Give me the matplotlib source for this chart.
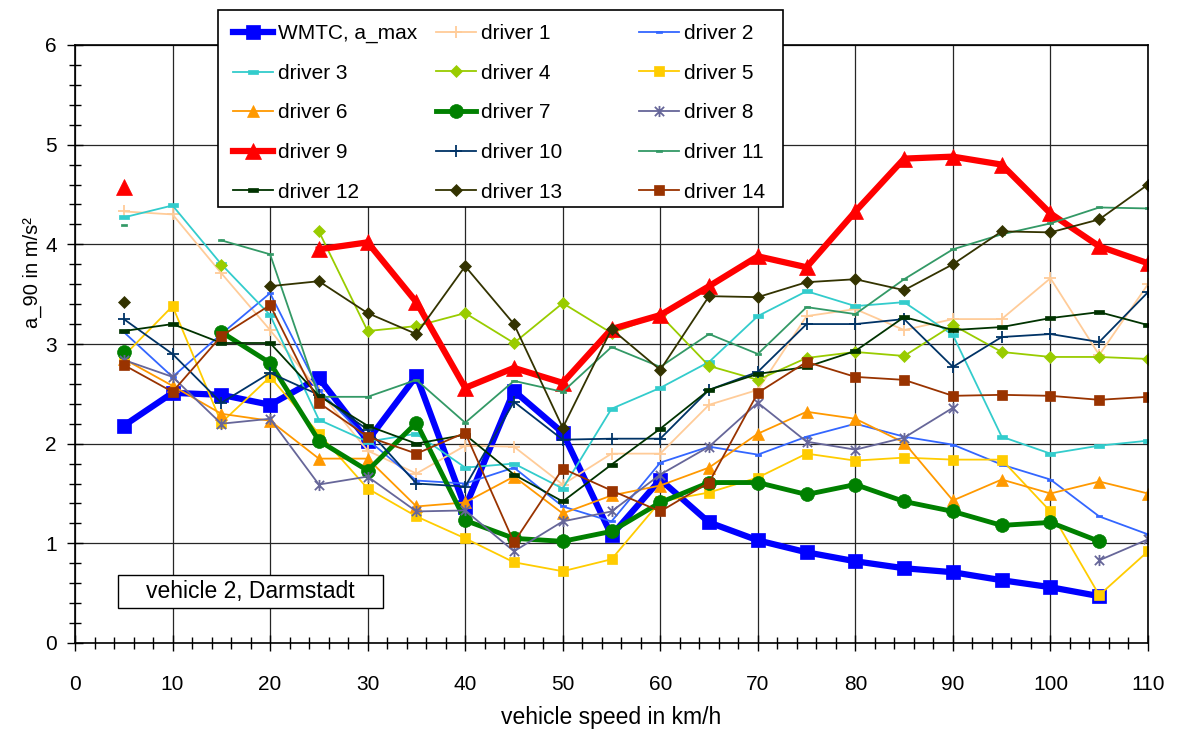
import numpy as np
import matplotlib
matplotlib.use("Agg")
import matplotlib.pyplot as plt
from matplotlib.path import Path
from matplotlib.patches import Rectangle
from matplotlib.ticker import MultipleLocator

plt.rcParams['font.family'] = ['Liberation Sans', 'DejaVu Sans']

nan = np.nan

# vehicle speed classes in km/h
speed = [5, 10, 15, 20, 25, 30, 35, 40, 45, 50, 55, 60, 65, 70, 75, 80, 85, 90, 95, 100, 105, 110]

# a_90 in m/s^2 per speed class
wmtc = [2.18, 2.51, 2.49, 2.39, 2.66, 2.03, 2.68, 1.36, 2.53, 2.11, 1.08, 1.64, 1.21, 1.03, 0.91, 0.82, 0.75, 0.71, 0.63, 0.56, 0.47, nan]
driver_1 = [4.33, 4.30, 3.71, 3.14, 2.53, 1.93, 1.70, 1.98, 1.97, 1.59, 1.90, 1.90, 2.39, 2.54, 3.28, 3.35, 3.14, 3.25, 3.25, 3.66, 2.89, 3.60]
driver_2 = [3.12, 2.67, 3.10, 3.51, 2.54, 2.04, 1.63, 1.60, 1.76, 1.37, 1.22, 1.81, 1.97, 1.89, 2.07, 2.20, 2.07, 1.99, 1.79, 1.64, 1.27, 1.09]
driver_3 = [4.27, 4.39, 3.80, 3.29, 2.24, 2.02, 2.10, 1.76, 1.80, 1.55, 2.35, 2.56, 2.82, 3.28, 3.53, 3.38, 3.42, 3.09, 2.07, 1.90, 1.98, 2.03]
driver_4 = [nan, nan, 3.79, nan, 4.13, 3.13, 3.18, 3.31, 3.01, 3.41, 3.11, 3.29, 2.78, 2.64, 2.86, 2.92, 2.88, 3.19, 2.92, 2.87, 2.87, 2.85]
driver_5 = [2.88, 3.38, 2.21, 2.67, 2.10, 1.55, 1.27, 1.05, 0.81, 0.72, 0.84, 1.42, 1.51, 1.66, 1.90, 1.83, 1.86, 1.84, 1.84, 1.32, 0.48, 0.92]
driver_6 = [2.85, 2.58, 2.30, 2.23, 1.85, 1.85, 1.37, 1.41, 1.67, 1.30, 1.48, 1.58, 1.76, 2.10, 2.32, 2.25, 2.01, 1.43, 1.64, 1.50, 1.62, 1.50]
driver_7 = [2.92, nan, 3.12, 2.81, 2.03, 1.73, 2.21, 1.23, 1.05, 1.02, 1.12, 1.41, 1.61, 1.61, 1.49, 1.59, 1.42, 1.32, 1.18, 1.21, 1.02, nan]
driver_8 = [2.84, 2.67, 2.20, 2.25, 1.59, 1.67, 1.32, 1.33, 0.92, 1.22, 1.32, 1.69, 1.97, 2.41, 2.02, 1.94, 2.06, 2.36, nan, nan, 0.83, 1.04]
driver_9 = [4.58, nan, nan, nan, 3.95, 4.02, 3.42, 2.56, 2.76, 2.61, 3.15, 3.29, 3.58, 3.88, 3.77, 4.33, 4.86, 4.88, 4.80, 4.31, 3.98, 3.81]
driver_10 = [3.25, 2.90, 2.41, 2.71, 2.49, 2.14, 1.60, 1.57, 2.42, 2.04, 2.05, 2.05, 2.54, 2.72, 3.20, 3.20, 3.25, 2.77, 3.07, 3.10, 3.02, 3.52]
driver_11 = [4.19, nan, 4.04, 3.90, 2.47, 2.47, 2.64, 2.21, 2.63, 2.52, 2.97, 2.77, 3.10, 2.90, 3.37, 3.30, 3.65, 3.95, 4.10, 4.21, 4.37, 4.36]
driver_12 = [3.13, 3.20, 3.01, 3.01, 2.48, 2.18, 2.00, 2.09, 1.69, 1.42, 1.79, 2.15, 2.54, 2.70, 2.77, 2.93, 3.27, 3.14, 3.17, 3.26, 3.32, 3.19]
driver_13 = [3.42, nan, nan, 3.58, 3.63, 3.31, 3.10, 3.78, 3.20, 2.16, 3.15, 2.74, 3.48, 3.47, 3.62, 3.65, 3.54, 3.80, 4.13, 4.12, 4.25, 4.60]
driver_14 = [2.79, 2.52, 3.08, 3.39, 2.41, 2.07, 1.90, 2.11, 1.01, 1.75, 1.53, 1.32, 1.61, 2.51, 2.82, 2.67, 2.64, 2.48, 2.49, 2.48, 2.44, 2.47]

labels = ['WMTC, a_max'] + ['driver %d' % i for i in range(1, 15)]
series = [wmtc, driver_1, driver_2, driver_3, driver_4, driver_5, driver_6, driver_7,
          driver_8, driver_9, driver_10, driver_11, driver_12, driver_13, driver_14]

# small bar marker and x-with-vertical star marker
dash = Path([(-1, -0.4), (1, -0.4), (1, 0.4), (-1, 0.4), (-1, -0.4)])
star = Path([(-1, -1), (1, 1), (-1, 1), (1, -1), (0, -1.2), (0, 1.2)],
            [Path.MOVETO, Path.LINETO, Path.MOVETO, Path.LINETO, Path.MOVETO, Path.LINETO])

# color, marker, marker size, line width
styles = [
    ('#0000FF', 's', 10.5, 4.5),
    ('#FFCC99', '+', 9, 1.3),
    ('#3366FF', dash, 5, 1.3),
    ('#33CCCC', dash, 7, 1.3),
    ('#99CC00', 'D', 6.5, 1.3),
    ('#FFCC00', 's', 7.5, 1.3),
    ('#FF9900', '^', 8, 1.3),
    ('#008000', 'o', 10, 3.5),
    ('#666699', star, 8, 1.3),
    ('#FF0000', '^', 11, 4.5),
    ('#003366', '+', 9, 1.3),
    ('#339966', dash, 5, 1.3),
    ('#003300', dash, 6.5, 1.3),
    ('#333300', 'D', 6.5, 1.3),
    ('#993300', 's', 7.5, 1.3),
]

fig = plt.figure(figsize=(11.79, 7.38), dpi=100)
ax = fig.add_axes([75 / 1179, 1 - 643 / 738, 1073 / 1179, 598 / 738])

handles = []
for values, label, (color, marker, ms, lw) in zip(series, labels, styles):
    y = np.array(values, dtype=float)
    if marker == '+' or marker is star:
        line, = ax.plot(speed, y, color=color, lw=lw, marker=marker, ms=ms,
                        mfc='none', mec=color, mew=1.3, label=label)
    else:
        line, = ax.plot(speed, y, color=color, lw=lw, marker=marker, ms=ms,
                        mfc=color, mec=color, mew=0.5, label=label)
    handles.append(line)

ax.set_xlim(0, 110)
ax.set_ylim(0, 6)
ax.xaxis.set_major_locator(MultipleLocator(10))
ax.xaxis.set_minor_locator(MultipleLocator(2))
ax.yaxis.set_major_locator(MultipleLocator(1))
ax.yaxis.set_minor_locator(MultipleLocator(0.2))
ax.grid(which='major', color='#262626', lw=0.9)
ax.set_axisbelow(True)
for s in ax.spines.values():
    s.set_color('black')
    s.set_linewidth(1.2)

ax.tick_params(axis='x', which='major', direction='inout', length=12, width=1, pad=17, labelsize=15)
ax.tick_params(axis='x', which='minor', direction='inout', length=8, width=1)
ax.tick_params(axis='y', which='major', direction='inout', length=12, width=1, pad=7, labelsize=15)
ax.tick_params(axis='y', which='minor', direction='inout', length=8, width=1)

ax.set_xlabel('vehicle speed in km/h', fontsize=16.5)
ax.xaxis.set_label_coords(0.5, -0.105)
ax.set_ylabel('a_90 in m/s²', fontsize=14.5)
ax.yaxis.set_label_coords(-0.031, 0.62)

# info box in the lower left
ax.add_patch(Rectangle((4.41, 0.351), 27.16, 0.331, fc='white', ec='black', lw=1, zorder=5))
ax.text(18.0, 0.515, 'vehicle 2, Darmstadt', ha='center', va='center', fontsize=16.5, zorder=6)

# legend box, filled row by row in three columns
fig.patches.append(Rectangle((218 / 1179, 1 - 207 / 738), 565 / 1179, 197 / 738,
                             transform=fig.transFigure, fc='white', ec='black', lw=1.2, zorder=4))
col_x = [233, 436, 639]
for c in range(3):
    idx = list(range(c, 15, 3))
    leg = fig.legend([handles[i] for i in idx], [labels[i] for i in idx], ncol=1, frameon=False,
                     loc='upper left', bbox_to_anchor=(col_x[c] / 1179, 1 - 24 / 738),
                     borderpad=0, borderaxespad=0, fontsize=15, handlelength=1.9,
                     handletextpad=0.25, labelspacing=0.99)
    leg.set_zorder(5)

fig.savefig('out.png', dpi=100)
